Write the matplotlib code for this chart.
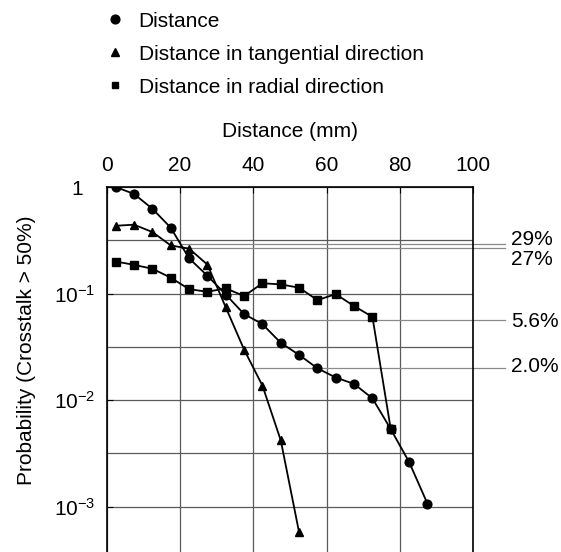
import matplotlib
matplotlib.use('Agg')
import matplotlib.pyplot as plt
from matplotlib.lines import Line2D
from matplotlib.transforms import ScaledTranslation

plt.rcParams['font.family'] = ['Liberation Sans', 'DejaVu Sans']
plt.rcParams['mathtext.fontset'] = 'custom'
plt.rcParams['mathtext.rm'] = 'Liberation Sans'
plt.rcParams['mathtext.it'] = 'Liberation Sans:italic'
plt.rcParams['font.size'] = 15

# values
dist_x = [2.5, 7.5, 12.5, 17.5, 22.5, 27.5, 32.5, 37.5, 42.5, 47.5, 52.5,
          57.5, 62.5, 67.5, 72.5, 77.5, 82.5, 87.5]
dist_p = [1.0, 0.86, 0.625, 0.415, 0.214, 0.147, 0.098, 0.0642, 0.0517, 0.0345,
          0.0266, 0.0199, 0.0163, 0.0142, 0.0104, 0.00534, 0.00263, 0.00107]

tang_x = [2.5, 7.5, 12.5, 17.5, 22.5, 27.5, 32.5, 37.5, 42.5, 47.5, 52.5]
tang_p = [0.433, 0.443, 0.378, 0.283, 0.264, 0.187, 0.0743, 0.0298, 0.0137,
          0.0042, 0.000575]

rad_x = [2.5, 7.5, 12.5, 17.5, 22.5, 27.5, 32.5, 37.5, 42.5, 47.5, 52.5,
         57.5, 62.5, 67.5, 72.5, 77.5]
rad_p = [0.2, 0.186, 0.171, 0.141, 0.110, 0.104, 0.112, 0.0948, 0.125, 0.122,
         0.1135, 0.0869, 0.0989, 0.0763, 0.0605, 0.00534]

series_labels = ['Distance', 'Distance in tangential direction',
                 'Distance in radial direction']
series_markers = ['o', '^', 's']

ref_levels = [0.29, 0.27, 0.056, 0.020]
ref_labels = ['29%', '27%', '5.6%', '2.0%']
ref_start = [20, 20, 40, 40]
ref_end = 108.6
ref_text_x = 110.4
ref_text_dy = [3.8, -8.2, -0.7, 0.8]

x_ticks = [0, 20, 40, 60, 80, 100]
y_ticks = [1, 1e-1, 1e-2, 1e-3]
y_ticklabels = ['1', r'$10^{-1}$', r'$10^{-2}$', r'$10^{-3}$']
y_minor = [0.316, 0.0316, 0.00316]

fig = plt.figure(figsize=(5.61, 5.52), dpi=100)
ax = fig.add_axes([0.190, -0.0145, 0.6536, 0.6757])

ax.set_yscale('log')
ax.set_xlim(0, 100)
ax.set_ylim(10 ** -3.5, 1)

ax.set_xticks(x_ticks)
ax.set_yticks(y_ticks, y_ticklabels)
ax.set_yticks(y_minor, minor=True)
ax.yaxis.set_minor_formatter(plt.NullFormatter())
ax.grid(True, which='both', color='#5a5a5a', lw=0.9, zorder=0)
ax.set_axisbelow(True)

ax.xaxis.tick_top()
ax.xaxis.set_label_position('top')
ax.tick_params(axis='x', direction='in', length=4, pad=8.4)
ax.tick_params(axis='y', which='major', direction='in', length=4, pad=8)
ax.tick_params(axis='y', which='minor', length=0)
for s in ax.spines.values():
    s.set_linewidth(1.2)

ax.set_xlabel('Distance (mm)', labelpad=14)
ax.set_ylabel('Probability (Crosstalk > 50%)')
ax.yaxis.set_label_coords(-0.193, 0.563)

xs = [dist_x, tang_x, rad_x]
ps = [dist_p, tang_p, rad_p]
msizes = [6.3, 6.2, 5.2]
for x, p, m, ms in zip(xs, ps, series_markers, msizes):
    ax.plot(x, p, color='black', lw=1.3, marker=m, ms=ms, zorder=3)

for lev, lab, x0, dy in zip(ref_levels, ref_labels, ref_start, ref_text_dy):
    ax.plot([x0, ref_end], [lev, lev], color='#8a8a8a', lw=0.9,
            clip_on=False, zorder=1)
    ax.annotate(lab, xy=(ref_text_x, lev), xytext=(0, dy),
                textcoords='offset points', ha='left', va='center',
                annotation_clip=False)

# "1" sits further left than the 10^n labels
lab1 = ax.yaxis.get_major_ticks()[0].label1
lab1.set_transform(lab1.get_transform() +
                   ScaledTranslation(-12 / 100, 0, fig.dpi_scale_trans))

handles = [Line2D([], [], ls='none', marker=m, color='black', ms=s)
           for m, s in zip(series_markers, [6.3, 5.5, 5])]
fig.legend(handles, series_labels, loc='upper left',
           bbox_to_anchor=(0.1865, 0.9788), frameon=False, borderpad=0,
           borderaxespad=0, handlelength=1.0, handletextpad=0.63,
           labelspacing=0.67)

fig.savefig('out.png', dpi=100)
